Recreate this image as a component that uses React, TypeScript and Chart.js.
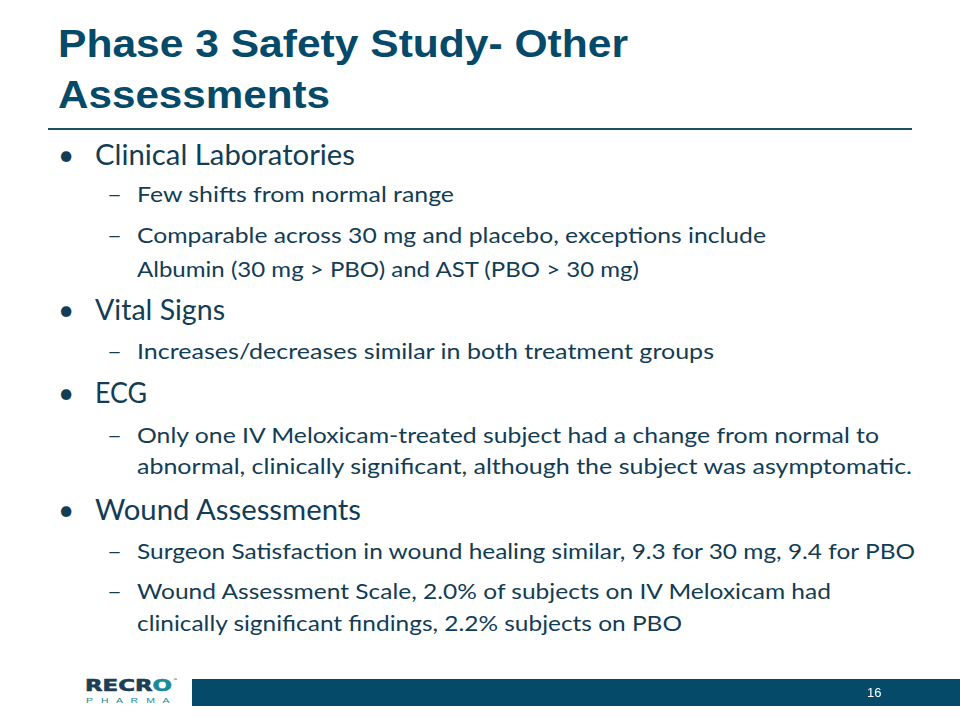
import React, { useEffect, useLayoutEffect, useRef } from "react";
import { Chart, registerables } from "chart.js";
Chart.register(...registerables);

// ---- slide content ----
const titleLines = ["Phase 3 Safety Study- Other", "Assessments"];
const titleBaselines = [57, 108];
const titleWidths = [570, 272];

const lineKinds = ["bullet", "sub", "sub", "cont", "bullet", "sub", "bullet", "sub", "cont", "bullet", "sub", "sub", "cont"];
const lineTexts = [
  "Clinical Laboratories",
  "Few shifts from normal range",
  "Comparable across 30 mg and placebo, exceptions include",
  "Albumin (30 mg > PBO) and AST (PBO > 30 mg)",
  "Vital Signs",
  "Increases/decreases similar in both treatment groups",
  "ECG",
  "Only one IV Meloxicam-treated subject had a change from normal to",
  "abnormal, clinically significant, although the subject was asymptomatic.",
  "Wound Assessments",
  "Surgeon Satisfaction in wound healing similar, 9.3 for 30 mg, 9.4 for PBO",
  "Wound Assessment Scale, 2.0% of subjects on IV Meloxicam had",
  "clinically significant findings, 2.2% subjects on PBO",
];
const lineCenters = [155, 195, 236, 270, 310, 352, 393, 436, 467, 510, 552, 592, 624];
const lineWidths = [260, 317, 629, 502, 130, 577, 52, 742, 775, 266, 778, 694, 545];

// footer bar (one full-width bar)
const footerLabels = ["footer"];
const footerValues = [1];
const pageNumber = "16";

const TEXT = "#123d55";
const TEAL = "#064a69";

function FitText(props: { text?: string; width: number; style: React.CSSProperties; children?: React.ReactNode }) {
  const ref = useRef<HTMLSpanElement>(null);
  useLayoutEffect(() => {
    const el = ref.current;
    if (!el) return;
    el.style.transform = "none";
    const w = el.getBoundingClientRect().width;
    if (w > 0) el.style.transform = `scaleX(${props.width / w})`;
  }, [props.text, props.width]);
  return (
    <span
      ref={ref}
      style={{ ...props.style, position: "absolute", whiteSpace: "pre", transformOrigin: "0 0" }}
    >
      {props.children ?? props.text}
    </span>
  );
}

export default function App() {
  const canvasRef = useRef<HTMLCanvasElement>(null);
  useEffect(() => {
    if (!canvasRef.current) return;
    const chart = new Chart(canvasRef.current, {
      type: "bar",
      data: {
        labels: footerLabels,
        datasets: [
          {
            data: footerValues,
            backgroundColor: TEAL,
            barPercentage: 1,
            categoryPercentage: 1,
            borderWidth: 0,
          },
        ],
      },
      options: {
        indexAxis: "y",
        animation: false,
        responsive: false,
        maintainAspectRatio: false,
        layout: { padding: 0 },
        plugins: { legend: { display: false }, tooltip: { enabled: false }, title: { display: false } },
        scales: {
          x: { display: false, min: 0, max: 1 },
          y: { display: false },
        },
      },
    });
    return () => chart.destroy();
  }, []);

  const bodyFont = "Lato, 'Noto Sans', sans-serif";

  return (
    <div style={{ position: "fixed", left: 0, top: 0, width: 960, height: 720, background: "#fff", overflow: "hidden" }}>
      {titleLines.map((t, i) => (
        <FitText
          key={"t" + i}
          text={t}
          width={titleWidths[i]}
          style={{
            left: 58,
            top: titleBaselines[i] - 36.2,
            fontFamily: "'Liberation Sans', Arial, sans-serif",
            fontWeight: 700,
            fontSize: 38,
            lineHeight: "46px",
            color: TEAL,
          }}
        />
      ))}
      <div style={{ position: "absolute", left: 48, top: 128, width: 864, height: 2, background: "#1f4f66" }} />

      {lineTexts.map((t, i) => {
        const kind = lineKinds[i];
        const size = kind === "bullet" ? 28 : 22;
        const x = kind === "bullet" ? 95 : 137;
        const top = lineCenters[i] - size * 0.62;
        return (
          <React.Fragment key={"l" + i}>
            {kind === "bullet" && (
              <span style={{ position: "absolute", left: 58, top: top, fontFamily: bodyFont, fontSize: 28, lineHeight: `${size * 1.2}px`, color: TEXT }}>•</span>
            )}
            {kind === "sub" && (
              <FitText
                text="–"
                width={15}
                style={{ left: 107, top: top, fontFamily: bodyFont, fontSize: 22, lineHeight: `${size * 1.2}px`, color: TEXT }}
              />
            )}
            <FitText
              text={t}
              width={lineWidths[i]}
              style={{ left: x, top: top, fontFamily: bodyFont, fontSize: size, lineHeight: `${size * 1.2}px`, color: TEXT }}
            />
          </React.Fragment>
        );
      })}

      {/* logo */}
      <FitText
        width={87}
        style={{ left: 85, top: 677, fontFamily: "'DejaVu Sans', sans-serif", fontWeight: 700, fontSize: 16, lineHeight: "18px", color: "#1d3e54", letterSpacing: 0, WebkitTextStroke: "0.6px #1d3e54" }}
      >
        RECR<span style={{ color: "#1a8a9a", WebkitTextStroke: "0.6px #1a8a9a" }}>O</span>
      </FitText>
      <span style={{ position: "absolute", left: 173, top: 677, fontSize: 4, color: "#0d3a52", fontFamily: "sans-serif" }}>™</span>
      <FitText
        text="P H A R M A"
        width={86}
        style={{ left: 86, top: 696, fontFamily: "'Liberation Sans', sans-serif", fontSize: 8, lineHeight: "10px", color: "#1a8a9a", letterSpacing: 2 }}
      />

      <div style={{ position: "absolute", left: 192, top: 679, width: 768, height: 27 }}>
        <canvas ref={canvasRef} width={768} height={27} style={{ display: "block", width: 768, height: 27 }} />
      </div>
      <span style={{ position: "absolute", left: 867, top: 685, fontFamily: "'Liberation Sans', Arial, sans-serif", fontSize: 13, color: "#ffffff", lineHeight: "16px" }}>
        {pageNumber}
      </span>
    </div>
  );
}
